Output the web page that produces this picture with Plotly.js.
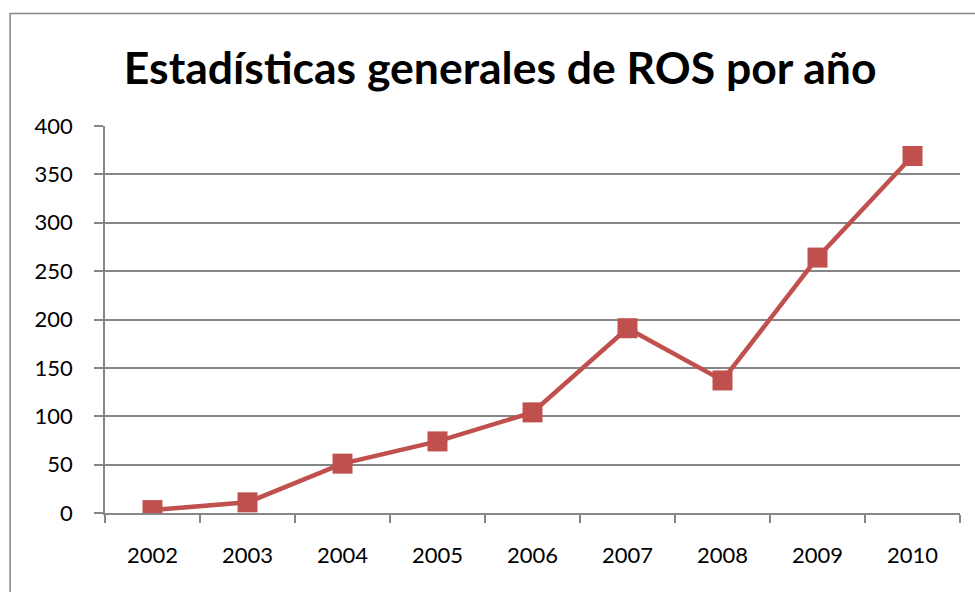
<!DOCTYPE html>
<html>
<head>
<meta charset="utf-8">
<script src="https://cdn.plot.ly/plotly-3.0.1.min.js"></script>
<style>html,body{margin:0;padding:0;background:#fff;}#chart{width:975px;height:592px;}</style>
</head>
<body>
<div id="chart"></div>
<script>
const years = ["2002","2003","2004","2005","2006","2007","2008","2009","2010"];
const rosValues = [3, 11, 51, 74, 104, 191, 137, 264, 369];
const yTicks = [0, 50, 100, 150, 200, 250, 300, 350, 400];
const titleText = "Estadísticas generales de ROS por año";

const trace = {
  x: years, y: rosValues, type: "scatter", mode: "lines+markers",
  line: {color: "#C0504D", width: 4.5},
  marker: {symbol: "square", size: 20, color: "#C0504D"},
  hoverinfo: "x+y"
};

const layout = {
  width: 975, height: 592,
  margin: {l: 105, r: 15, t: 126, b: 79},
  paper_bgcolor: "#fff", plot_bgcolor: "#fff",
  showlegend: false,
  font: {family: "Lato, 'Open Sans', sans-serif", color: "#000", size: 22},
  title: {text: "<b>" + titleText + "</b>", font: {size: 44.5, family: "Lato, sans-serif", color: "#000"},
          x: 0.513, xanchor: "center", y: 0.885, yanchor: "middle"},
  xaxis: {type: "category", range: [-0.5, 8.5], tickson: "boundaries",
          showline: true, linecolor: "#868686", linewidth: 1.5,
          ticks: "outside", ticklen: 8, tickcolor: "#868686", tickwidth: 1.5,
          showgrid: false, zeroline: false, tickfont: {size: 22}, ticklabelstandoff: 22},
  yaxis: {range: [0, 400], tickvals: yTicks, ticktext: yTicks.map(String),
          showline: true, linecolor: "#868686", linewidth: 1.5,
          ticks: "outside", ticklen: 9, tickcolor: "#868686", tickwidth: 1.5,
          showgrid: true, gridcolor: "#868686", gridwidth: 1.5,
          zeroline: false, tickfont: {size: 22}, ticklabelstandoff: 17},
  shapes: [{type: "rect", xref: "paper", yref: "paper", x0: -0.111, x1: 1.1, y0: -0.4, y1: 1.291,
            line: {color: "#868686", width: 1.5}, layer: "below"}]
};
Plotly.newPlot("chart", [trace], layout, {displayModeBar: false});
</script>
</body>
</html>
